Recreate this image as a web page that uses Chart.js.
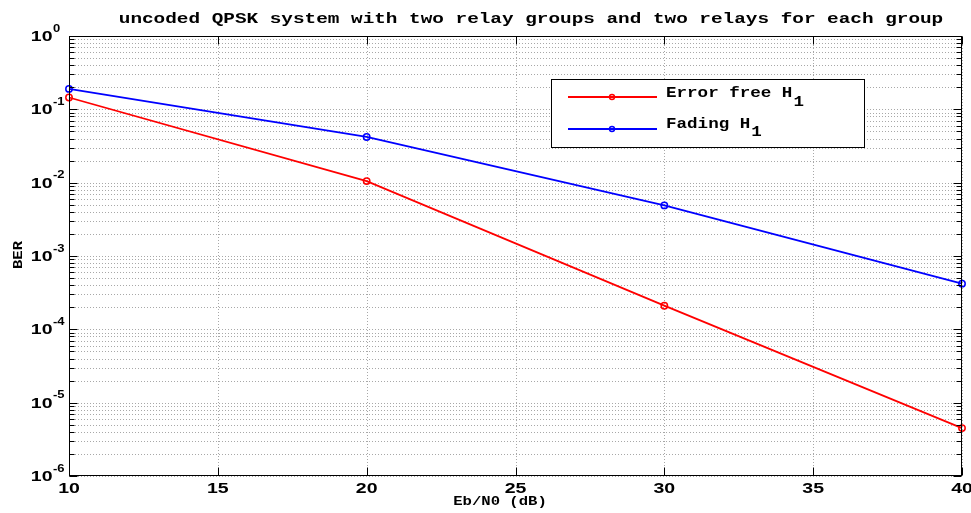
<!DOCTYPE html>
<html>
<head>
<meta charset="utf-8">
<script src="https://cdn.jsdelivr.net/npm/chart.js@4.4.1/dist/chart.umd.min.js"></script>
<style>
  html, body { margin: 0; padding: 0; background: #ffffff; }
  #wrap { width: 971px; height: 513px; }
</style>
</head>
<body>
<div id="wrap"><canvas id="c" width="971" height="513"></canvas></div>
<script>
// Eb/N0 points (dB) and measured BER for each relay configuration
const ebn0 = [10, 20, 30, 40];
const berErrorFree = [0.145, 0.0105, 2.1e-4, 4.5e-6];
const berFading = [0.19, 0.042, 4.9e-3, 4.2e-4];

// Axis labelling
const xTickLabels = [10, 15, 20, 25, 30, 35, 40];
const yDecades = [-6, -5, -4, -3, -2, -1, 0];
const seriesNames = ['Error free H', 'Fading H'];
const seriesSubscripts = ['1', '1'];
const titleText = 'uncoded QPSK system with two relay groups and two relays for each group';
const xTitle = 'Eb/N0 (dB)';
const yTitle = 'BER';

const RED = '#ff0000';
const BLUE = '#0000ff';
const MONO = '"Liberation Mono", "DejaVu Sans Mono", monospace';
const SANS = '"Liberation Sans", Arial, sans-serif';

// Draw text stretched horizontally by sx
function wideText(ctx, text, x, y, sx, align) {
  ctx.save();
  const w = ctx.measureText(text).width * sx;
  let x0 = x;
  if (align === 'center') x0 = x - w / 2;
  else if (align === 'right') x0 = x - w;
  ctx.translate(x0, y);
  ctx.scale(sx, 1);
  ctx.textAlign = 'left';
  ctx.fillText(text, 0, 0);
  ctx.restore();
  return w;
}

// Dotted grid under the data
const gridPlugin = {
  id: 'dottedGrid',
  beforeDatasetsDraw(chart) {
    const { ctx, chartArea: a, scales } = chart;
    ctx.save();
    ctx.strokeStyle = '#a8a8a8';
    ctx.lineWidth = 1;
    ctx.setLineDash([1, 2]);
    scales.x.ticks.forEach(t => {
      const px = Math.round(scales.x.getPixelForValue(t.value)) + 0.5;
      ctx.beginPath(); ctx.moveTo(px, a.top); ctx.lineTo(px, a.bottom); ctx.stroke();
    });
    scales.y.ticks.forEach(t => {
      const py = Math.round(scales.y.getPixelForValue(t.value)) + 0.5;
      ctx.beginPath(); ctx.moveTo(a.left, py); ctx.lineTo(a.right, py); ctx.stroke();
    });
    ctx.restore();
  }
};

// Box, inward ticks, tick labels, titles and legend
const frame = {
  id: 'frame',
  afterDraw(chart) {
    const { ctx, chartArea: a, scales } = chart;
    const L = Math.round(a.left) + 0.5, R = Math.round(a.right) - 0.5;
    const T = Math.round(a.top) + 0.5, B = Math.round(a.bottom) - 0.5;
    ctx.save();
    ctx.strokeStyle = '#000';
    ctx.lineWidth = 1;
    ctx.setLineDash([]);
    ctx.strokeRect(L, T, R - L, B - T);

    // y ticks on both sides
    scales.y.ticks.forEach(t => {
      const py = Math.round(scales.y.getPixelForValue(t.value)) + 0.5;
      const len = t.major ? 8 : 5;
      ctx.beginPath();
      ctx.moveTo(L, py); ctx.lineTo(L + len, py);
      ctx.moveTo(R, py); ctx.lineTo(R - len, py);
      ctx.stroke();
    });
    // x ticks top and bottom
    scales.x.ticks.forEach(t => {
      const px = Math.round(scales.x.getPixelForValue(t.value)) + 0.5;
      ctx.beginPath();
      ctx.moveTo(px, B); ctx.lineTo(px, B - 8);
      ctx.moveTo(px, T); ctx.lineTo(px, T + 8);
      ctx.stroke();
    });

    ctx.fillStyle = '#000';
    ctx.textBaseline = 'alphabetic';
    // x tick labels
    ctx.font = 'bold 15px ' + SANS;
    xTickLabels.forEach(v => {
      const px = scales.x.getPixelForValue(v);
      wideText(ctx, String(v), px, 493, 1.3, 'center');
    });
    // y tick labels: 10 with a raised exponent
    yDecades.forEach(e => {
      const py = scales.y.getPixelForValue(Math.pow(10, e));
      ctx.font = 'bold 15px ' + SANS;
      wideText(ctx, '10', 52.5, py + 5, 1.3, 'right');
      ctx.font = 'bold 10px ' + SANS;
      wideText(ctx, String(e), 53, py - 4.5, 1.3, 'left');
    });

    // title
    ctx.font = 'bold 15px ' + MONO;
    wideText(ctx, titleText, 531, 23, 1.29, 'center');
    // axis titles
    ctx.font = 'bold 13px ' + MONO;
    wideText(ctx, xTitle, 500, 505, 1.2, 'center');
    ctx.save();
    ctx.translate(22, 255);
    ctx.rotate(-Math.PI / 2);
    wideText(ctx, yTitle, 0, 0, 1.2, 'center');
    ctx.restore();

    // legend
    const lx = 551.5, ly = 79.5, lw = 313, lh = 68;
    ctx.fillStyle = '#fff';
    ctx.fillRect(lx, ly, lw, lh);
    ctx.strokeStyle = '#000';
    ctx.lineWidth = 1;
    ctx.strokeRect(lx, ly, lw, lh);
    const rows = [
      { color: RED, y: 97, base: 97 },
      { color: BLUE, y: 129, base: 127.5 }
    ];
    rows.forEach((r, i) => {
      ctx.strokeStyle = r.color;
      ctx.lineWidth = 1.8;
      ctx.beginPath(); ctx.moveTo(568, r.y); ctx.lineTo(657, r.y); ctx.stroke();
      ctx.lineWidth = 1.4;
      ctx.beginPath(); ctx.arc(612, r.y, 2.5, 0, Math.PI * 2); ctx.stroke();
      ctx.fillStyle = '#000';
      ctx.font = 'bold 15px ' + MONO;
      const w = wideText(ctx, seriesNames[i], 666, r.base, 1.17, 'left');
      wideText(ctx, seriesSubscripts[i], 666 + w + 1, r.base + 8.5, 1.17, 'left');
    });
    ctx.restore();
  }
};

const chart = new Chart(document.getElementById('c'), {
  type: 'line',
  data: {
    labels: ebn0,
    datasets: [
      {
        label: seriesNames[0] + seriesSubscripts[0],
        data: ebn0.map((x, i) => ({ x, y: berErrorFree[i] })),
        borderColor: RED, backgroundColor: 'rgba(0,0,0,0)',
        borderWidth: 1.8, pointRadius: 3.2, pointBorderWidth: 1.5,
        pointBackgroundColor: 'rgba(0,0,0,0)', pointBorderColor: RED,
        tension: 0, clip: false
      },
      {
        label: seriesNames[1] + seriesSubscripts[1],
        data: ebn0.map((x, i) => ({ x, y: berFading[i] })),
        borderColor: BLUE, backgroundColor: 'rgba(0,0,0,0)',
        borderWidth: 1.8, pointRadius: 3.2, pointBorderWidth: 1.5,
        pointBackgroundColor: 'rgba(0,0,0,0)', pointBorderColor: BLUE,
        tension: 0, clip: false
      }
    ]
  },
  options: {
    responsive: false,
    animation: false,
    devicePixelRatio: 1,
    layout: { padding: { left: 69, right: 9, top: 36, bottom: 37 } },
    plugins: { legend: { display: false }, title: { display: false }, tooltip: { enabled: false } },
    scales: {
      x: {
        type: 'linear', min: 10, max: 40,
        ticks: { display: false, stepSize: 5 },
        grid: { display: false, drawTicks: false },
        border: { display: false },
        afterFit(s) { s.height = 0; }
      },
      y: {
        type: 'logarithmic', min: 1e-6, max: 1,
        ticks: { display: false },
        grid: { display: false, drawTicks: false },
        border: { display: false },
        afterFit(s) { s.width = 0; },
        afterBuildTicks(s) {
          const ticks = [];
          yDecades.forEach(e => {
            if (e === 0) { ticks.push({ value: 1, major: true }); return; }
            for (let k = 1; k <= 9; k++) {
              ticks.push({ value: k * Math.pow(10, e), major: k === 1 });
            }
          });
          s.ticks = ticks;
        }
      }
    }
  },
  plugins: [gridPlugin, frame]
});
</script>
</body>
</html>
